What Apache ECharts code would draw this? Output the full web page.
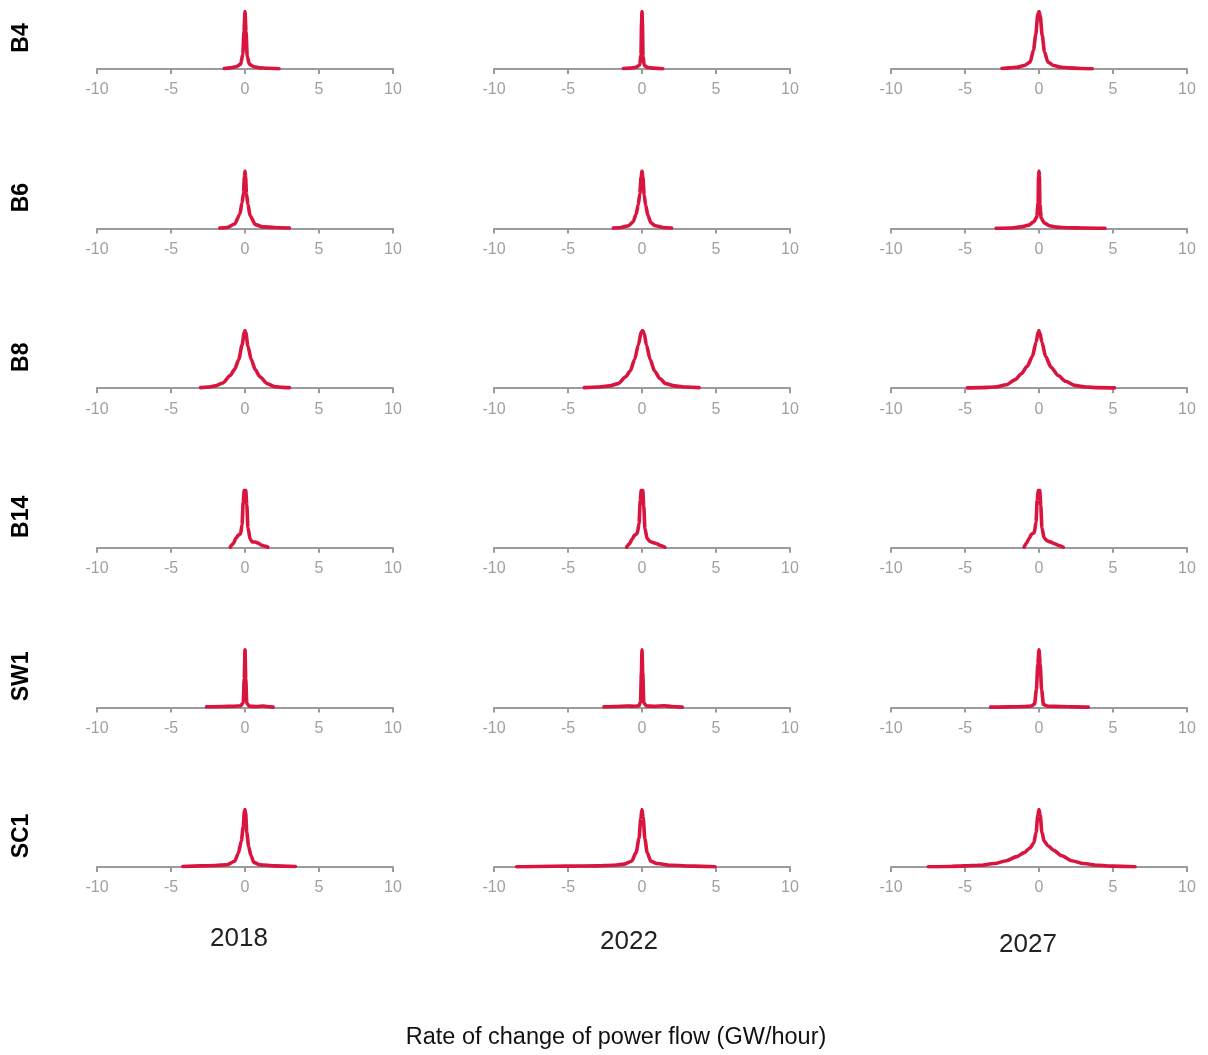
<!DOCTYPE html>
<html>
<head>
<meta charset="utf-8">
<script src="https://cdn.jsdelivr.net/npm/echarts@6/dist/echarts.min.js"></script>
<style>
  html, body { margin: 0; padding: 0; background: #fff; }
  #chart { width: 1208px; height: 1055px; }
</style>
</head>
<body>
<div id="chart"></div>
<script>
// Interconnector names (rows) and study years (columns)
const links = ['B4', 'B6', 'B8', 'B14', 'SW1', 'SC1'];
const years = ['2018', '2022', '2027'];
const xTicks = [-10, -5, 0, 5, 10];
const axisTitle = 'Rate of change of power flow (GW/hour)';

// Density of hourly change in flow: [GW/hour, relative density]
const b4_2018 = [[-1.4,0.01],[-1.0,0.02],[-0.6,0.04],[-0.3,0.08],[-0.15,0.25],[-0.07,0.65],[0,1],[0.07,0.65],[0.15,0.22],[0.3,0.08],[0.6,0.04],[1.0,0.02],[1.5,0.012],[2.3,0.005]];
const b4_2022 = [[-1.26,0.01],[-0.8,0.015],[-0.4,0.03],[-0.15,0.07],[-0.07,0.25],[-0.03,0.8],[0,1],[0.03,0.8],[0.07,0.22],[0.15,0.06],[0.4,0.025],[0.8,0.015],[1.4,0.005]];
const b4_2027 = [[-2.5,0.01],[-2.0,0.02],[-1.5,0.03],[-1.0,0.06],[-0.6,0.12],[-0.37,0.33],[-0.22,0.6],[-0.08,0.95],[0,1],[0.08,0.93],[0.22,0.58],[0.37,0.3],[0.6,0.12],[1.0,0.06],[1.5,0.03],[2.0,0.02],[2.8,0.01],[3.6,0.005]];

const b6_2018 = [[-1.7,0.01],[-1.2,0.02],[-0.7,0.08],[-0.35,0.25],[-0.2,0.45],[-0.1,0.62],[-0.04,0.9],[0,1],[0.04,0.9],[0.1,0.6],[0.2,0.42],[0.35,0.22],[0.7,0.07],[1.2,0.03],[2.0,0.02],[3.0,0.01]];
const b6_2022 = [[-1.94,0.01],[-1.4,0.02],[-0.9,0.05],[-0.6,0.12],[-0.4,0.25],[-0.25,0.42],[-0.15,0.6],[-0.06,0.9],[0,1],[0.06,0.9],[0.15,0.58],[0.25,0.4],[0.4,0.23],[0.6,0.1],[0.9,0.05],[1.4,0.02],[2.0,0.01]];
const b6_2027 = [[-2.9,0.005],[-2.0,0.01],[-1.2,0.03],[-0.7,0.06],[-0.35,0.12],[-0.15,0.2],[-0.06,0.45],[-0.03,0.9],[0,1],[0.03,0.9],[0.06,0.42],[0.15,0.18],[0.35,0.1],[0.7,0.05],[1.2,0.025],[2.0,0.015],[3.0,0.01],[4.46,0.005]];

const b8_2018 = [[-3.0,0.01],[-2.5,0.02],[-2.0,0.04],[-1.5,0.09],[-1.0,0.22],[-0.7,0.33],[-0.42,0.5],[-0.2,0.75],[-0.05,0.97],[0,1],[0.05,0.97],[0.2,0.73],[0.42,0.5],[0.7,0.32],[1.0,0.2],[1.5,0.08],[2.0,0.03],[2.5,0.015],[3.0,0.01]];
const b8_2022 = [[-3.9,0.01],[-3.0,0.02],[-2.2,0.04],[-1.6,0.08],[-1.1,0.2],[-0.8,0.3],[-0.5,0.5],[-0.25,0.75],[-0.05,0.98],[0.05,1],[0.15,0.95],[0.3,0.75],[0.55,0.5],[0.85,0.3],[1.2,0.17],[1.6,0.08],[2.2,0.04],[3.0,0.02],[3.85,0.01]];
const b8_2027 = [[-4.84,0.005],[-4.0,0.01],[-3.0,0.02],[-2.2,0.06],[-1.6,0.15],[-1.2,0.25],[-0.8,0.38],[-0.45,0.55],[-0.2,0.8],[-0.05,0.98],[0,1],[0.05,0.97],[0.2,0.8],[0.45,0.55],[0.8,0.37],[1.3,0.22],[1.8,0.12],[2.4,0.05],[3.2,0.02],[4.0,0.01],[5.1,0.005]];

const b14_2018 = [[-1.0,0.01],[-0.8,0.07],[-0.6,0.17],[-0.45,0.22],[-0.3,0.24],[-0.2,0.4],[-0.12,0.8],[-0.05,1],[0.05,1],[0.12,0.75],[0.2,0.35],[0.35,0.15],[0.5,0.1],[0.7,0.1],[0.9,0.08],[1.1,0.05],[1.3,0.03],[1.55,0.01]];
const b14_2022 = [[-1.04,0.01],[-0.85,0.07],[-0.65,0.16],[-0.5,0.22],[-0.32,0.25],[-0.2,0.42],[-0.12,0.82],[-0.05,1],[0.05,1],[0.12,0.72],[0.2,0.33],[0.35,0.16],[0.55,0.11],[0.75,0.09],[1.0,0.07],[1.25,0.04],[1.55,0.01]];
const b14_2027 = [[-1.01,0.01],[-0.85,0.08],[-0.65,0.17],[-0.5,0.24],[-0.32,0.26],[-0.2,0.45],[-0.12,0.84],[-0.05,1],[0.05,1],[0.12,0.74],[0.2,0.34],[0.35,0.17],[0.55,0.12],[0.8,0.1],[1.05,0.07],[1.35,0.04],[1.64,0.01]];

const sw1_2018 = [[-2.6,0.01],[-1.5,0.015],[-0.8,0.02],[-0.3,0.03],[-0.12,0.08],[-0.05,0.5],[0,1],[0.05,0.5],[0.12,0.07],[0.3,0.02],[0.8,0.015],[1.2,0.025],[1.5,0.015],[1.9,0.005]];
const sw1_2022 = [[-2.57,0.01],[-1.8,0.015],[-1.0,0.025],[-0.5,0.02],[-0.2,0.03],[-0.1,0.1],[-0.04,0.6],[0,1],[0.05,0.6],[0.12,0.08],[0.3,0.025],[0.8,0.02],[1.5,0.03],[2.0,0.015],[2.72,0.005]];
const sw1_2027 = [[-3.27,0.005],[-2.0,0.01],[-1.0,0.015],[-0.5,0.025],[-0.3,0.06],[-0.18,0.3],[-0.08,0.75],[0,1],[0.08,0.75],[0.18,0.3],[0.3,0.05],[0.6,0.02],[1.5,0.015],[2.5,0.01],[3.33,0.005]];

const sc1_2018 = [[-4.2,0.01],[-3.0,0.02],[-2.0,0.025],[-1.2,0.04],[-0.7,0.1],[-0.45,0.24],[-0.25,0.45],[-0.12,0.7],[-0.04,0.97],[0,1],[0.04,0.95],[0.12,0.6],[0.25,0.35],[0.4,0.2],[0.6,0.08],[1.0,0.04],[2.0,0.02],[3.4,0.01]];
const sc1_2022 = [[-8.47,0.005],[-7.0,0.01],[-5.0,0.015],[-3.0,0.02],[-2.0,0.03],[-1.2,0.05],[-0.7,0.1],[-0.4,0.25],[-0.2,0.5],[-0.08,0.85],[0,1],[0.08,0.85],[0.2,0.48],[0.35,0.25],[0.6,0.1],[1.0,0.06],[2.0,0.03],[3.5,0.015],[4.93,0.005]];
const sc1_2027 = [[-7.48,0.005],[-6.0,0.01],[-5.0,0.02],[-4.0,0.03],[-3.0,0.06],[-2.2,0.11],[-1.5,0.18],[-1.0,0.25],[-0.6,0.33],[-0.35,0.42],[-0.2,0.6],[-0.08,0.9],[0,1],[0.08,0.9],[0.2,0.6],[0.35,0.45],[0.6,0.37],[1.0,0.29],[1.5,0.2],[2.2,0.11],[3.0,0.06],[4.0,0.03],[5.0,0.015],[6.49,0.005]];

const panels = [
  [b4_2018, b4_2022, b4_2027],
  [b6_2018, b6_2022, b6_2027],
  [b8_2018, b8_2022, b8_2027],
  [b14_2018, b14_2022, b14_2027],
  [sw1_2018, sw1_2022, sw1_2027],
  [sc1_2018, sc1_2022, sc1_2027]
];

// Layout of the small-multiple grid
const FONT = '"Liberation Sans", Arial, Helvetica, sans-serif';
const LINE = '#d8143f';
const AXIS = '#9b9b9b';
const colLeft = [97, 494, 891];
const panelW = 296;
const panelH = 57.5;
const firstAxisY = 69;
const rowStep = 159.6;
const yearPos = [[239, 939], [629, 942], [1028, 945]];

const grids = [], xAxes = [], yAxes = [], series = [], graphics = [];

links.forEach((name, r) => {
  const axisY = firstAxisY + r * rowStep;
  graphics.push({
    type: 'text',
    x: 22, y: axisY - 31,
    rotation: Math.PI / 2,
    style: {
      text: name, x: 0, y: 0,
      align: 'center', verticalAlign: 'middle',
      font: 'bold 23px ' + FONT, fill: '#000'
    }
  });
  years.forEach((yr, c) => {
    const i = grids.length;
    grids.push({ left: colLeft[c], top: axisY - panelH, width: panelW, height: panelH, containLabel: false });
    xAxes.push({
      gridIndex: i, type: 'value', min: xTicks[0], max: xTicks[xTicks.length - 1], interval: 5,
      axisLine: { show: true, onZero: false, lineStyle: { color: AXIS, width: 2 } },
      axisTick: { show: true, length: 5, lineStyle: { color: AXIS, width: 2 } },
      axisLabel: { color: '#a0a0a0', fontSize: 16, fontFamily: FONT, margin: 13 },
      splitLine: { show: false }
    });
    yAxes.push({
      gridIndex: i, type: 'value', min: 0, max: 1, show: false
    });
    series.push({
      type: 'line', xAxisIndex: i, yAxisIndex: i,
      data: panels[r][c],
      showSymbol: false, smooth: 0.25, smoothMonotone: 'x',
      lineStyle: { color: LINE, width: 3.6, join: 'round', cap: 'round' },
      silent: true, animation: false
    });
  });
});

years.forEach((yr, c) => {
  graphics.push({
    type: 'text', x: yearPos[c][0], y: yearPos[c][1],
    style: { text: yr, x: 0, y: 0, align: 'center', verticalAlign: 'middle', font: '26px ' + FONT, fill: '#222' }
  });
});
graphics.push({
  type: 'text', x: 616, y: 1038,
  style: { text: axisTitle, x: 0, y: 0, align: 'center', verticalAlign: 'middle', font: '23.5px ' + FONT, fill: '#111' }
});

const chart = echarts.init(document.getElementById('chart'), null, { renderer: 'canvas' });
chart.setOption({
  backgroundColor: '#fff',
  animation: false,
  grid: grids,
  xAxis: xAxes,
  yAxis: yAxes,
  series: series,
  graphic: graphics
});
</script>
</body>
</html>
